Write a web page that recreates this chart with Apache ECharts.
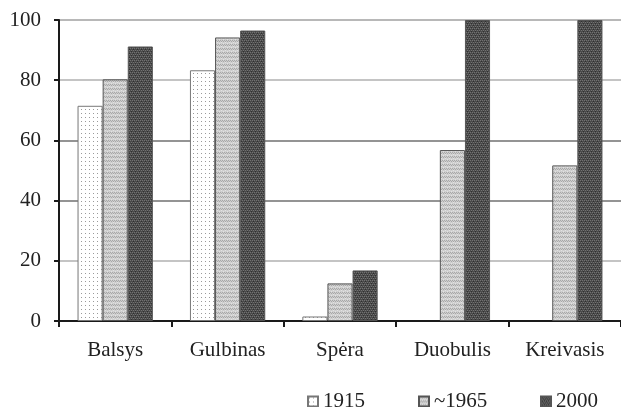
<!DOCTYPE html>
<html><head><meta charset="utf-8">
<script src="https://cdn.jsdelivr.net/npm/echarts@6/dist/echarts.min.js"></script>
<style>html,body{margin:0;padding:0;background:#fff}#c{width:621px;height:407px}</style>
</head><body><div id="c"></div>
<script>
const categories = ['Balsys', 'Gulbinas', 'Spėra', 'Duobulis', 'Kreivasis'];
const seriesNames = ['1915', '~1965', '2000'];
const v1915 = [71.5, 83.3, 1.5, null, null];
const v1965 = [80.3, 94.2, 12.5, 56.8, 51.7];
const v2000 = [91.2, 96.5, 16.8, 100, 100];
const yTicks = [0, 20, 40, 60, 80, 100];

function makePattern(kind) {
  const c = document.createElement('canvas');
  c.width = 4; c.height = 4;
  const g = c.getContext('2d');
  if (kind === 0) {
    g.fillStyle = '#ffffff'; g.fillRect(0, 0, 4, 4);
    g.fillStyle = '#9a9a9a'; g.fillRect(1, 1, 1, 1);
  } else if (kind === 1) {
    g.fillStyle = '#cfcfcf'; g.fillRect(0, 0, 4, 4);
    g.fillStyle = '#a8a8a8';
    g.fillRect(0, 0, 1, 1); g.fillRect(2, 0, 1, 1); g.fillRect(1, 1, 1, 1); g.fillRect(3, 1, 1, 1);
    g.fillStyle = '#e2e2e2';
    g.fillRect(1, 2, 1, 1); g.fillRect(3, 3, 1, 1);
  } else {
    g.fillStyle = '#4a4a4a'; g.fillRect(0, 0, 4, 4);
    g.fillStyle = '#727272';
    g.fillRect(0, 0, 1, 1); g.fillRect(2, 0, 1, 1); g.fillRect(1, 2, 1, 1); g.fillRect(3, 2, 1, 1);
    g.fillStyle = '#303030';
    g.fillRect(1, 1, 1, 1); g.fillRect(3, 3, 1, 1);
  }
  return { image: c, repeat: 'repeat' };
}

const values = [v1915, v1965, v2000];
const font = 'Liberation Serif';
const legendLefts = [302, 413, 535];
const chart = echarts.init(document.getElementById('c'));
chart.setOption({
  animation: false,
  backgroundColor: '#fff',
  grid: { left: 59, right: 0, top: 20, bottom: 86 },
  legend: seriesNames.map((n, i) => ({
    top: 386, left: legendLefts[i],
    icon: 'rect', itemWidth: 10, itemHeight: 10, itemGap: 5,
    textStyle: { fontFamily: font, fontSize: 21, color: '#222' },
    data: [n]
  })),
  xAxis: {
    type: 'category', data: categories,
    axisLine: { lineStyle: { color: '#1a1a1a', width: 2 } },
    axisTick: { show: true, length: 6, lineStyle: { color: '#1a1a1a', width: 2 } },
    axisLabel: { fontFamily: font, fontSize: 21, color: '#222', margin: 19 }
  },
  yAxis: {
    type: 'value', min: 0, max: 100, interval: 20,
    axisLine: { show: true, lineStyle: { color: '#1a1a1a', width: 2 } },
    axisTick: { show: true, length: 5, lineStyle: { color: '#1a1a1a', width: 2 } },
    axisLabel: { fontFamily: font, fontSize: 21, color: '#222', margin: 18,
      formatter: v => yTicks.includes(v) ? String(v) : '' },
    splitLine: { show: true, lineStyle: { color: ['#1a1a1a', '#b0b0b0', '#707070', '#707070', '#b0b0b0', '#a0a0a0'], width: 1.5 } }
  },
  series: seriesNames.map((n, i) => ({
    name: n, type: 'bar', data: values[i],
    barGap: '0%', barCategoryGap: '33%',
    itemStyle: { color: makePattern(i), borderColor: i === 0 ? '#777' : '#555', borderWidth: 1 }
  }))
});
</script></body></html>
